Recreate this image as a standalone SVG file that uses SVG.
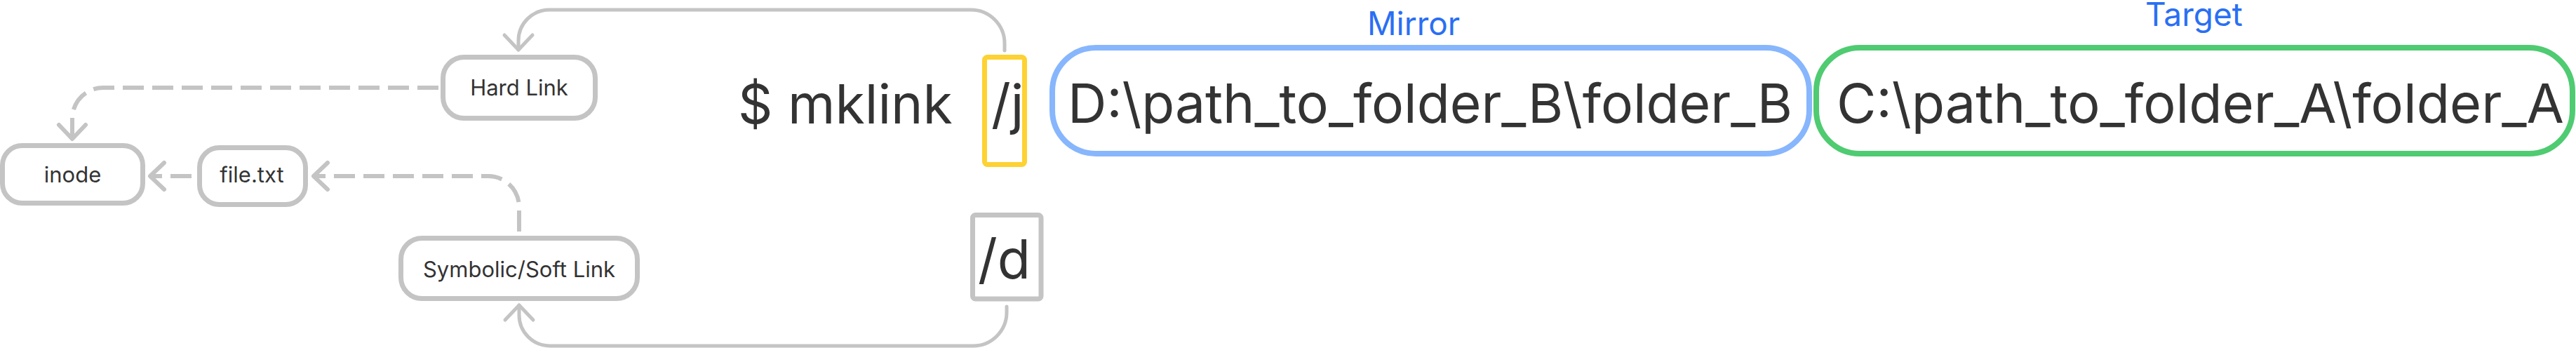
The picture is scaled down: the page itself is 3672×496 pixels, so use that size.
<svg xmlns="http://www.w3.org/2000/svg" width="3672" height="496" viewBox="0 0 3672 496">
  <style>
    .node { fill: #ffffff; stroke: #c4c4c4; stroke-width: 7; }
    .lbl { font-family: Inter, "Liberation Sans", sans-serif; font-size: 31px; fill: #333333; text-anchor: middle; }
    .big { font-family: Inter, "Liberation Sans", sans-serif; font-size: 77px; fill: #333333; }
    .cap { font-family: Inter, "Liberation Sans", sans-serif; font-size: 46px; fill: #2a6ff3; }
    .solid { fill: none; stroke: #c4c4c4; stroke-width: 5; stroke-linecap: round; }
    .dash { fill: none; stroke: #c4c4c4; stroke-width: 6; stroke-dasharray: 30 12; }
  </style>
  <defs>
    <marker id="arrS" viewBox="-30 -30 40 60" refX="0" refY="0" markerWidth="40" markerHeight="60" orient="auto" markerUnits="userSpaceOnUse">
      <path d="M -21 -20 L 0 0 L -21 20" fill="none" stroke="#c4c4c4" stroke-width="5" stroke-linecap="round" stroke-linejoin="round" stroke-dasharray="none"/>
    </marker>
    <marker id="arrD" viewBox="-30 -30 40 60" refX="0" refY="0" markerWidth="40" markerHeight="60" orient="auto" markerUnits="userSpaceOnUse">
      <path d="M -20 -19 L 0 0 L -20 19" fill="none" stroke="#c4c4c4" stroke-width="6" stroke-linecap="round" stroke-linejoin="round" stroke-dasharray="none"/>
    </marker>
  </defs>

  <g id="connectors">
    <path class="solid" d="M 1432 72 V 62 A 48 48 0 0 0 1384 14 H 783 A 44 44 0 0 0 739 58 V 71" marker-end="url(#arrS)"/>
    <path class="solid" d="M 1435 437 V 445 A 48 48 0 0 1 1387 493 H 784 A 44 44 0 0 1 740 449 V 435" marker-end="url(#arrS)"/>
    <path class="dash" d="M 625 125 H 147 A 44 44 0 0 0 103 169 V 198" marker-end="url(#arrD)"/>
    <path class="dash" d="M 275 251 H 214" stroke-dashoffset="-2" marker-end="url(#arrD)"/>
    <path class="dash" d="M 740 330 V 295 A 44 44 0 0 0 696 251 H 447" marker-end="url(#arrD)"/>
  </g>

  <g id="inode">
    <rect class="node" x="3.5" y="207.5" width="200" height="82" rx="28"/>
    <text class="lbl" x="103.5" y="260">inode</text>
  </g>
  <g id="file-txt">
    <rect class="node" x="284.5" y="210.5" width="151" height="81" rx="28"/>
    <text class="lbl" x="359" y="260">file.txt</text>
  </g>
  <g id="hard-link">
    <rect class="node" x="631.5" y="81.5" width="217" height="87" rx="30"/>
    <text class="lbl" x="740" y="136">Hard Link</text>
  </g>
  <g id="soft-link">
    <rect class="node" x="571.5" y="339.5" width="337" height="86" rx="30"/>
    <text class="lbl" x="740" y="395">Symbolic/Soft Link</text>
  </g>

  <g id="command">
    <text class="big" x="1052" y="176">$ mklink</text>
  </g>
  <g id="opt-j">
    <rect x="1403.5" y="81.5" width="57" height="153" rx="4" fill="none" stroke="#fdd232" stroke-width="7"/>
    <text class="big" x="1413" y="176">/j</text>
  </g>
  <g id="opt-d">
    <rect x="1386.5" y="306.5" width="97.5" height="119.5" rx="4" fill="none" stroke="#c4c4c4" stroke-width="7"/>
    <text class="big" x="1394" y="397">/d</text>
  </g>

  <g id="mirror">
    <text class="cap" x="1949" y="50">Mirror</text>
    <rect x="1500" y="68" width="1079" height="151" rx="62" fill="none" stroke="#87b6fd" stroke-width="8"/>
    <text class="big" x="1522" y="175" textLength="1033" lengthAdjust="spacingAndGlyphs">D:\path_to_folder_B\folder_B</text>
  </g>
  <g id="target">
    <text class="cap" x="3058" y="37">Target</text>
    <rect x="2589" y="68" width="1078" height="151" rx="62" fill="none" stroke="#4fcb71" stroke-width="8"/>
    <text class="big" x="2618" y="175" textLength="1037" lengthAdjust="spacingAndGlyphs">C:\path_to_folder_A\folder_A</text>
  </g>
</svg>
